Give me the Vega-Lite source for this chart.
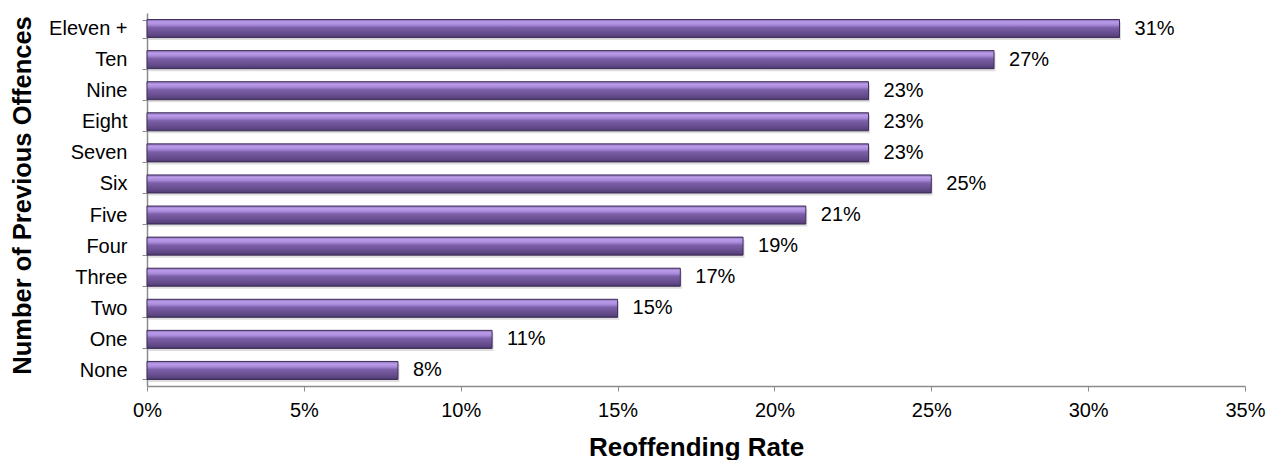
{
  "$schema": "https://vega.github.io/schema/vega-lite/v6.json",
  "autosize": "none",
  "width": 1098,
  "height": 373,
  "padding": {"left": 147, "top": 13, "right": 34, "bottom": 74},
  "background": "white",
  "config": {
    "view": {"stroke": null},
    "font": "Liberation Sans, Arial, sans-serif"
  },
  "data": {
    "values": [
      {"offences": "Eleven +", "rate": 0.31},
      {"offences": "Ten", "rate": 0.27},
      {"offences": "Nine", "rate": 0.23},
      {"offences": "Eight", "rate": 0.23},
      {"offences": "Seven", "rate": 0.23},
      {"offences": "Six", "rate": 0.25},
      {"offences": "Five", "rate": 0.21},
      {"offences": "Four", "rate": 0.19},
      {"offences": "Three", "rate": 0.17},
      {"offences": "Two", "rate": 0.15},
      {"offences": "One", "rate": 0.11},
      {"offences": "None", "rate": 0.08}
    ]
  },
  "encoding": {
    "y": {
      "field": "offences",
      "type": "nominal",
      "sort": null,
      "scale": {"paddingInner": 0.42, "paddingOuter": 0.21},
      "axis": {
        "title": "Number of Previous Offences",
        "titleFont": "Liberation Sans, Arial, sans-serif",
        "titleFontSize": 25.5,
        "titleFontWeight": "bold",
        "titleColor": "#000000",
        "titleAngle": -90,
        "titleAlign": "center",
        "titleBaseline": "alphabetic",
        "titleX": -117,
        "titleY": 182,
        "labelFontSize": 20,
        "labelColor": "#000000",
        "labelPadding": 15,
        "tickBand": "extent",
        "tickSize": 5,
        "tickColor": "#8c8c8c",
        "domainColor": "#8c8c8c",
        "domainWidth": 1.5
      }
    },
    "x": {
      "field": "rate",
      "type": "quantitative",
      "scale": {"domain": [0, 0.35], "nice": false},
      "axis": {
        "title": "Reoffending Rate",
        "titleFontSize": 26,
        "titleFontWeight": "bold",
        "titleColor": "#000000",
        "titleBaseline": "alphabetic",
        "titleY": 69,
        "format": ".0%",
        "values": [0, 0.05, 0.1, 0.15, 0.2, 0.25, 0.3, 0.35],
        "labelFontSize": 20,
        "labelColor": "#000000",
        "labelPadding": 9,
        "labelFlush": false,
        "grid": false,
        "tickSize": 5,
        "tickColor": "#8c8c8c",
        "domainColor": "#8c8c8c",
        "domainWidth": 1.5
      }
    }
  },
  "layer": [
    {
      "mark": {
        "type": "bar",
        "color": "#000000",
        "opacity": 0.13,
        "yOffset": 2.5,
        "xOffset": 1.5
      }
    },
    {
      "mark": {
        "type": "bar",
        "stroke": "#3f2e5a",
        "strokeWidth": 1,
        "color": {
          "gradient": "linear",
          "x1": 0, "y1": 0, "x2": 0, "y2": 1,
          "stops": [
            {"offset": 0, "color": "#8a6cb8"},
            {"offset": 0.14, "color": "#bb9dea"},
            {"offset": 0.3, "color": "#a888d8"},
            {"offset": 0.45, "color": "#7b5fa8"},
            {"offset": 0.7, "color": "#6b5193"},
            {"offset": 0.9, "color": "#5a4480"},
            {"offset": 1, "color": "#45335f"}
          ]
        }
      }
    },
    {
      "mark": {
        "type": "text",
        "align": "left",
        "baseline": "middle",
        "dx": 15,
        "fontSize": 20,
        "color": "#000000"
      },
      "encoding": {
        "text": {"field": "rate", "type": "quantitative", "format": ".0%"}
      }
    }
  ]
}
